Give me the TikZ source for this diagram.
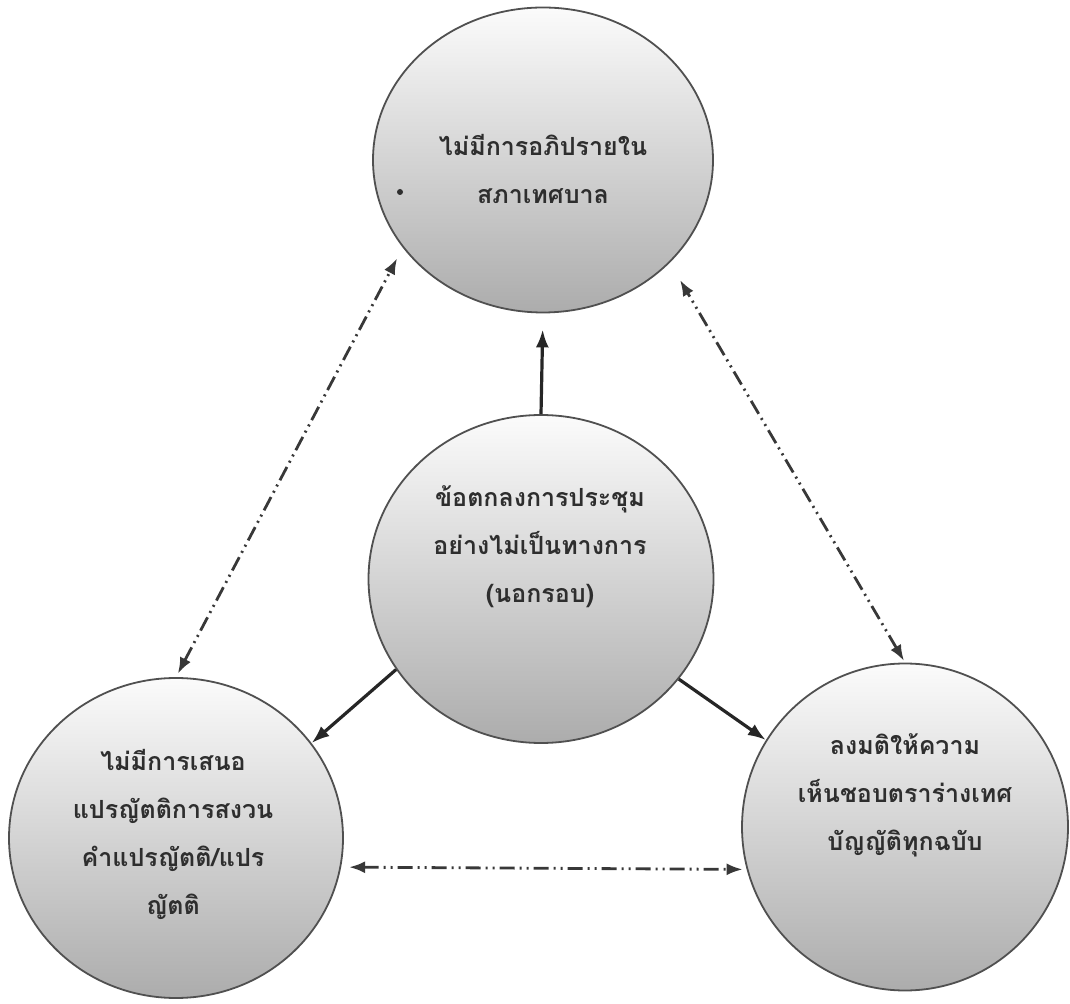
\documentclass[tikz,border=0pt]{standalone}
\usepackage{fontspec}
\newfontfamily\thaifont[Script=Thai]{Loma}
\usetikzlibrary{arrows.meta,shapes.geometric,calc}

\definecolor{rimgray}{HTML}{505050}
\definecolor{inkgray}{HTML}{2E2E2E}

\begin{document}
\begin{tikzpicture}[x=0.5pt,y=-0.5pt,
	bubble/.style={ellipse,draw=rimgray,line width=0.9pt,top color=gray!3,middle color=gray!22,bottom color=gray!65,inner sep=0pt},
	bubbletext/.style={align=center,text=inkgray,font=\thaifont\bfseries\fontsize{12.5}{24}\selectfont},
	mainarrow/.style={-{Latex[length=9pt,width=6.5pt]},line width=1.6pt,draw=black!85},
	linkarrow/.style={{Latex[length=8pt,width=6pt]}-{Latex[length=8pt,width=6pt]},line width=1.4pt,draw=black!78,dash pattern=on 7.5pt off 2.5pt on 1pt off 2.5pt on 1pt off 2.5pt}]
	
	\fill[white] (0,0) rectangle (1070,1004);
	\useasboundingbox (0,0) rectangle (1070,1004);
	
	\node[bubble,minimum width=170pt,minimum height=152.5pt] (top) at (543,160) {};
	\node[bubble,minimum width=172.5pt,minimum height=164pt] (mid) at (541,579) {};
	\node[bubble,minimum width=167pt,minimum height=160pt] (left) at (176,838) {};
	\node[bubble,minimum width=163pt,minimum height=163.5pt] (right) at (905,827) {};
	
	\node[bubbletext] (topText) at (543,169) {ไม่มีการอภิปรายใน\\สภาเทศบาล};
	\node[bubbletext] (midText) at (540,547) {ข้อตกลงการประชุม\\อย่างไม่เป็นทางการ\\(นอกรอบ)};
	\node[bubbletext] (leftText) at (173,834) {ไม่มีการเสนอ\\แปรญัตติการสงวน\\คำแปรญัตติ/แปร\\ญัตติ};
	\node[bubbletext] (rightText) at (905,795) {ลงมติให้ความ\\เห็นชอบตราร่างเทศ\\บัญญัติทุกฉบับ};
	\fill[inkgray] (400,192) circle (1.5pt);
	
	\draw[mainarrow,shorten >=8pt] (mid.north) -- (top.south);
	\draw[mainarrow] (mid.212) -- (left.35);
	\draw[mainarrow] (mid.-36) -- (right.148);
	
	\draw[linkarrow,shorten <=2pt,shorten >=6pt] (left.north) -- (top.212);
	\draw[linkarrow,shorten <=1pt,shorten >=10pt] (right.north) -- (top.321);
	\draw[linkarrow,shorten <=4pt,shorten >=2pt] (left.-10) -- (right.195);
	
\end{tikzpicture}
\end{document}
